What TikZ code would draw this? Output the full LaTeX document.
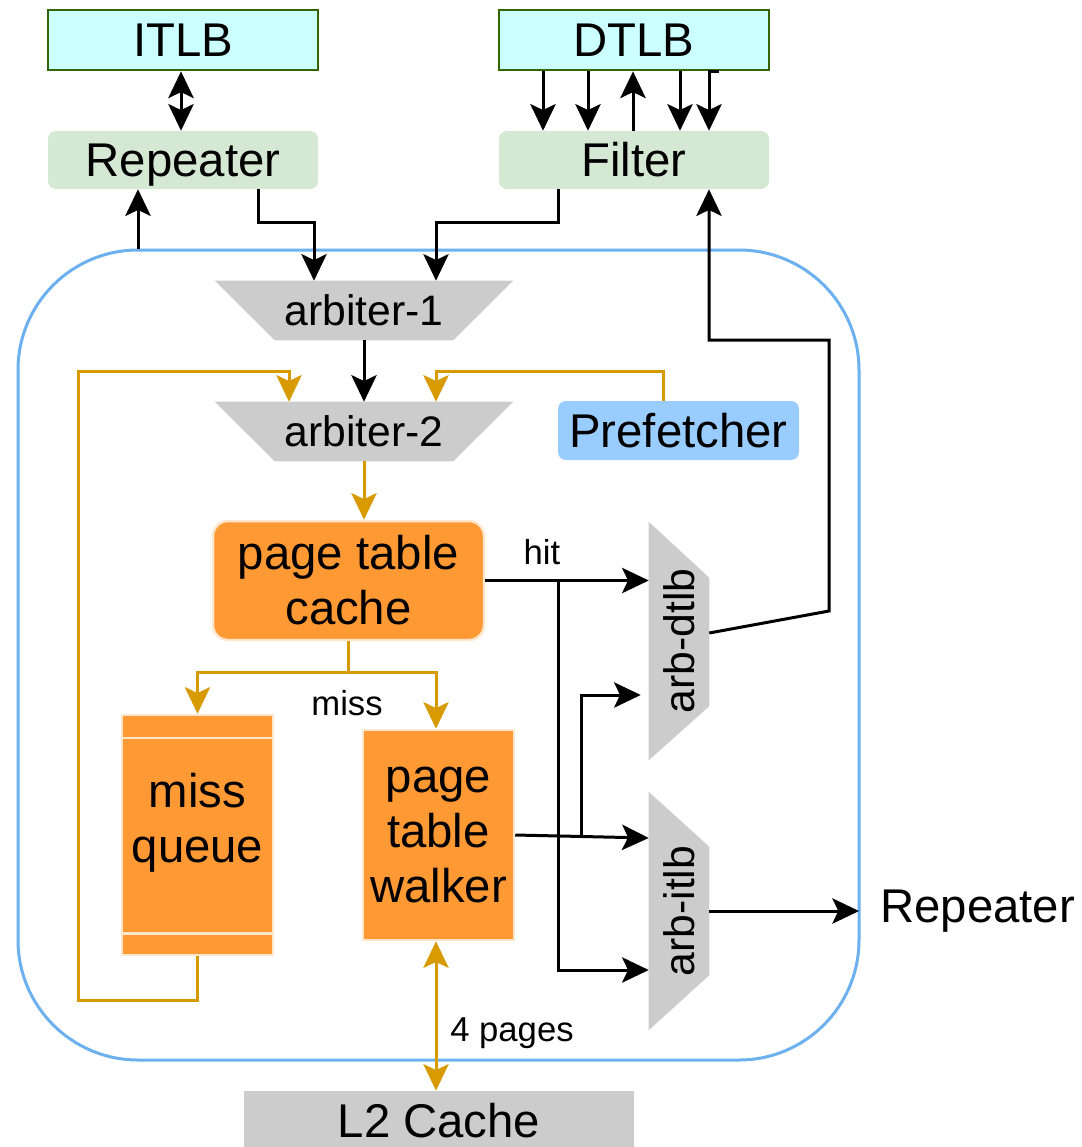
\documentclass[tikz,border=0pt]{standalone}
\usepackage{fontspec}
\setmainfont{Liberation Sans}
\usetikzlibrary{arrows.meta,calc,backgrounds}
\definecolor{tlbfill}{HTML}{CCFFFF}
\definecolor{tlbdraw}{HTML}{336600}
\definecolor{greenfill}{HTML}{D5E8D4}
\definecolor{orangefill}{HTML}{FF9933}
\definecolor{orangedraw}{HTML}{FFE6CC}
\definecolor{greyfill}{HTML}{CCCCCC}
\definecolor{blueframe}{HTML}{6CB0F0}
\definecolor{prefill}{HTML}{99CCFF}
\definecolor{goldline}{HTML}{D79B00}
\newcommand\pxu{0.75pt}
\begin{document}
\begin{tikzpicture}[x=0.75pt,y=-0.75pt,
  bigtxt/.style={font=\fontsize{35.5}{41.25}\selectfont},
  medtxt/.style={font=\fontsize{32}{38}\selectfont},
  smalltxt/.style={font=\fontsize{26}{30}\selectfont},
  tlbbox/.style={draw=tlbdraw, line width=2.8*\pxu, fill=tlbfill, minimum width=270*\pxu, minimum height=60*\pxu, inner sep=0pt, bigtxt},
  grnbox/.style={fill=greenfill, rounded corners=8*\pxu, minimum width=270*\pxu, minimum height=58*\pxu, inner sep=0pt, bigtxt},
  orgbox/.style={fill=orangefill, draw=orangedraw, line width=2.5*\pxu, inner sep=0pt, align=center, bigtxt},
  arbbox/.style={inner sep=0pt, minimum width=298*\pxu, minimum height=59*\pxu, medtxt},
  sidebox/.style={inner sep=0pt, minimum width=60*\pxu, minimum height=238*\pxu, medtxt},
  arr/.style={line width=3*\pxu, -{Stealth[length=20pt,width=19pt,inset=4.5pt]}},
  darr/.style={line width=3*\pxu, {Stealth[length=20pt,width=19pt,inset=4.5pt]}-{Stealth[length=20pt,width=19pt,inset=4.5pt]}},
  goldarr/.style={arr, draw=goldline},
  golddarr/.style={darr, draw=goldline},
]
\useasboundingbox (0,0) rectangle (1082,1147);

% container
\node[draw=blueframe, line width=3*\pxu, rounded corners=120*\pxu, minimum width=841*\pxu, minimum height=810*\pxu, inner sep=0pt] (core) at (438.5,655) {};

% top boxes
\node[tlbbox] (itlb) at (183,40) {ITLB};
\node[tlbbox] (dtlb) at (634,40) {DTLB};
\node[grnbox, text depth=0pt] (rep) at (183,160) {Repeater};
\node[grnbox] (filt) at (634,160) {Filter};

% arbiters
\node[arbbox] (arb1) at (364,310.5) {arbiter-1};
\node[arbbox] (arb2) at (364,431.5) {arbiter-2};
\node[fill=prefill, rounded corners=8*\pxu, minimum width=241*\pxu, minimum height=59*\pxu, inner sep=0pt, bigtxt] (pref) at (678.5,430.5) {Prefetcher};

% orange blocks
\node[orgbox, rounded corners=15*\pxu, minimum width=271*\pxu, minimum height=119*\pxu] (ptc) at (348.5,580.5) {page table\\cache};
\node[orgbox, minimum width=151*\pxu, minimum height=240*\pxu] (mq) at (197.5,835) {};
\node[inner sep=0pt, align=center, bigtxt] (mqtext) at (197.5,823) {miss\\queue};
\node[orgbox, minimum width=151*\pxu, minimum height=210*\pxu] (ptw) at (438.5,835) {page\\table\\walker};
\draw[orangedraw, line width=2.5*\pxu] ($(mq.north west)+(1,24)$) -- ($(mq.north east)+(-1,24)$);
\draw[orangedraw, line width=2.5*\pxu] ($(mq.south west)+(1,-23)$) -- ($(mq.south east)+(-1,-23)$);

% side arbiters
\node[sidebox] (adtlb) at (679,641) {\rotatebox{90}{arb-dtlb}};
\node[sidebox] (aitlb) at (679,911) {\rotatebox{90}{arb-itlb}};

% L2
\node[fill=greyfill, minimum width=390*\pxu, minimum height=60*\pxu, inner sep=0pt, bigtxt] (l2) at (439,1121) {L2 Cache};

% output label
\node[anchor=west, inner sep=0pt, bigtxt] (rout) at (880,911) {Repeater};

% grey shapes on background
\begin{scope}[on background layer]
\fill[greyfill] (arb1.north west) -- (arb1.north east) -- ($(arb1.south east)+(-60,0)$) -- ($(arb1.south west)+(60,0)$) -- cycle;
\fill[greyfill] (arb2.north west) -- (arb2.north east) -- ($(arb2.south east)+(-60,0)$) -- ($(arb2.south west)+(60,0)$) -- cycle;
\fill[greyfill] (adtlb.north west) -- ($(adtlb.north east)+(0,56)$) -- ($(adtlb.south east)+(0,-54)$) -- (adtlb.south west) -- cycle;
\fill[greyfill] (aitlb.north west) -- ($(aitlb.north east)+(0,55)$) -- ($(aitlb.south east)+(0,-55)$) -- (aitlb.south west) -- cycle;
\end{scope}

% top connectors
\draw[darr] (itlb.south -| 181,0) -- (rep.north -| 181,0);
\draw[arr] (dtlb.south -| 543,0) -- (filt.north -| 543,0);
\draw[arr] (dtlb.south -| 588,0) -- (filt.north -| 588,0);
\draw[arr] (filt.north -| 633,0) -- (dtlb.south -| 633,0);
\draw[arr] (dtlb.south -| 680,0) -- (filt.north -| 680,0);
\draw[arr] (dtlb.south -| 719,0) -- ++(-10,0) -- (filt.north -| 709,0);

\draw[arr] (rep.south -| 258,0) |- (314,222) -- (arb1.north -| 314,0);
\draw[arr] (filt.south -| 558,0) |- (436,222) -- (arb1.north -| 436,0);
\draw[arr] (core.north -| 138,0) -- (rep.south -| 138,0);

% arbiter chain
\draw[arr] (arb1.south) -- (arb2.north);
\draw[goldarr] (mq.south) |- (78,1000) |- (289,371) -- (arb2.north -| 289,0);
\draw[goldarr] (pref.north -| 663,0) |- (436,371) -- (arb2.north -| 436,0);
\draw[goldarr] (arb2.south) -- (ptc.north -| arb2.south);

% miss
\coordinate (missbr) at ($(ptc.south)+(0,31)$);
\draw[goldarr] (ptc.south) -- (missbr) -| (mq.north);
\draw[goldarr] (missbr) -| (ptw.north -| 436,0);
\node[smalltxt] (misslbl) at (347,703) {miss};

% hit
\draw[arr] (ptc.east) -- (adtlb.west |- ptc.east);
\node[smalltxt] (hitlbl) at (542,552) {hit};
\coordinate (hitbr) at (ptc.east -| 558,0);
\draw[arr] (hitbr) |- (aitlb.west |- 0,970);

% walker outputs
\draw[arr] (ptw.east) -- (aitlb.west |- 0,838);
\coordinate (ptwbr) at (ptw.east -| 581,0);
\draw[arr] (ptwbr) |- ($(adtlb.west |- 0,695)+(-8,0)$);

% arb-dtlb back to filter
\draw[arr] ($(adtlb.east)+(0,-8)$) -- (829,611) -- (829,340) -| (filt.south -| 709,0);

% arb-itlb to repeater
\draw[arr] (aitlb.east) -- ($(rout.west)+(-21,0)$);

% L2
\draw[golddarr] (ptw.south -| 436,0) -- (l2.north -| 436,0);
\node[smalltxt] (pglbl) at (512,1033) {4 pages};
\end{tikzpicture}
\end{document}
